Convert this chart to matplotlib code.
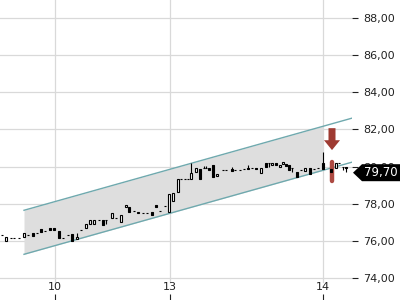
import matplotlib
matplotlib.use('Agg')
import matplotlib.pyplot as plt
from matplotlib.patches import Polygon
import numpy as np

# bar position (time slot), open, close, high, low
t = [2, 6, 11, 14, 19, 24, 28, 33, 37, 41, 45, 50, 54, 59, 63, 68, 72, 77, 81, 86,
     90, 94, 99, 103, 106, 112, 116, 121, 126, 129, 134, 138, 143, 147, 152, 156, 160, 165, 169, 173,
     178, 181, 185, 188, 191, 196, 200, 204, 206, 209, 213, 217, 223, 226, 232, 235, 240, 244, 248, 252,
     256, 261, 266, 269, 272, 276, 280, 283, 286, 289, 292, 297, 301, 305, 310, 314, 318, 323, 331, 336,
     339, 343, 346]
o = [76.31, 75.98, 76.18, 76.18, 76.15, 76.20, 76.31, 76.42, 76.42, 76.63, 76.52, 76.70, 76.70, 76.52, 76.18, 76.31, 76.35, 76.09, 76.58, 76.72,
     76.90, 76.90, 77.12, 77.15, 77.12, 77.24, 77.24, 77.02, 77.80, 77.80, 77.60, 77.48, 77.51, 77.51, 77.56, 77.96, 77.62, 77.87, 77.56, 78.16,
     78.61, 79.33, 79.33, 79.36, 79.33, 79.72, 79.87, 79.94, 79.94, 79.94, 80.08, 79.49, 79.81, 79.81, 79.85, 79.81, 79.81, 79.85, 79.94, 79.90,
     79.94, 79.67, 80.20, 80.17, 80.08, 80.17, 79.99, 80.15, 80.13, 80.08, 79.90, 79.72, 79.81, 79.77, 79.94, 79.85, 79.90, 80.17, 79.85, 79.90,
     80.20, 79.99, 79.99]
c = [76.31, 76.20, 76.18, 76.18, 76.15, 76.42, 76.31, 76.25, 76.42, 76.47, 76.52, 76.58, 76.58, 76.16, 76.18, 76.31, 75.98, 76.22, 76.58, 76.92,
     77.15, 77.15, 77.12, 76.88, 77.12, 77.48, 77.24, 77.39, 77.92, 77.56, 77.60, 77.56, 77.51, 77.51, 77.39, 77.80, 77.62, 77.87, 78.52, 78.59,
     79.33, 79.33, 79.33, 79.36, 79.63, 79.94, 79.36, 79.94, 79.94, 79.81, 79.45, 79.58, 79.81, 79.81, 79.76, 79.81, 79.81, 79.85, 79.85, 79.90,
     79.85, 79.94, 79.99, 80.17, 80.17, 80.08, 80.08, 80.26, 80.03, 79.81, 79.90, 79.45, 79.81, 79.90, 79.60, 79.85, 79.90, 79.85, 79.70, 80.20,
     80.20, 79.99, 79.90]
# wicks that stick out of the body
hi_extra = {17: 76.42, 44: 80.17, 47: 80.04, 48: 80.04, 54: 79.97, 58: 80.08, 77: 80.80}
lo_extra = {24: 76.90, 63: 79.99, 70: 79.70, 81: 79.81, 82: 79.70}

# trend channel (start/end slot, upper and lower price)
chan_t = [24, 352]
chan_upper = [77.65, 82.61]
chan_lower = [75.28, 80.24]
chan_fill_end = 323

# sell signal
signal_t = 332
signal_range = [79.22, 80.26]
arrow_top, arrow_tip = 82.07, 80.89
last_price = 79.70

day_ticks = [55, 170, 323]
day_labels = ['10', '13', '14']
price_ticks = [74, 76, 78, 80, 82, 84, 86, 88]

fig = plt.figure(figsize=(4, 3), dpi=100)
ax = fig.add_axes([0, 0, 352 / 400, 1])
ax.set_xlim(0, 352)
ax.set_ylim(72.82, 88.97)

if True:  # grid
  for y in price_ticks:
    ax.axhline(y, color='#d9d9d9', lw=0.9, zorder=0)
  for x in day_ticks:
    ax.axvline(x, ymin=0.06, color='#d9d9d9', lw=0.9, zorder=0)

if True:  # channel
  xs = np.array([chan_t[0], chan_fill_end])
  ax.fill_between(xs, np.interp(xs, chan_t, chan_lower), np.interp(xs, chan_t, chan_upper),
                  color='#dedede', lw=0, zorder=1)
  ax.plot(chan_t, chan_upper, color='#6fa9ae', lw=1, zorder=2)
  ax.plot(chan_t, chan_lower, color='#6fa9ae', lw=1, zorder=2)

if True:  # signal highlight + arrow
  ax.vlines(signal_t, signal_range[0], signal_range[1], color='#ad4a42', lw=3.2,
            capstyle='round', zorder=3)
  sw, hw = 3.5, 8
  mid = arrow_tip + (arrow_top - arrow_tip) * 0.45
  ax.add_patch(Polygon([(signal_t - sw, arrow_top), (signal_t + sw, arrow_top), (signal_t + sw, mid),
                        (signal_t + hw, mid), (signal_t, arrow_tip), (signal_t - hw, mid),
                        (signal_t - sw, mid)], closed=True, color='#9e3a31', lw=0, zorder=3))

if True:  # candles
  o = np.array(o); c = np.array(c)
  h = np.maximum(o, c); l = np.minimum(o, c)
  for i, v in hi_extra.items(): h[i] = v
  for i, v in lo_extra.items(): l[i] = v
  ax.vlines(t, l, h, color='black', lw=0.8, zorder=4)
  face = ['white' if cc > oo else 'black' for oo, cc in zip(o, c)]
  ax.bar(t, c - o, bottom=o, width=2.6, color=face, edgecolor='black', lw=0.8, zorder=5)

if True:  # axes
  for s in ax.spines.values():
    s.set_visible(False)
  ax.yaxis.tick_right()
  ax.set_yticks(price_ticks)
  ax.set_yticklabels([('%.2f' % v).replace('.', ',') for v in price_ticks])
  ax.tick_params(axis='y', direction='out', length=4, width=0.8, pad=4, labelsize=8,
                 colors='#222222')
  ax.set_xticks(day_ticks)
  ax.set_xticklabels(day_labels)
  ax.tick_params(axis='x', direction='in', length=4, width=0.8, pad=-13, labelsize=8,
                 colors='#222222')

if True:  # last price tag
  fig.canvas.draw()
  px, py = ax.transData.transform((352, last_price))
  py = py - 0.5
  tag = Polygon([(px + 1, py), (px + 10, py + 8.5), (400, py + 8.5), (400, py - 8.5), (px + 10, py - 8.5)],
                closed=True, transform=None, color='black', lw=0)
  fig.add_artist(tag)
  fig.text((px + 10 + 400) / 2 / 400, py / 300, ('%.2f' % last_price).replace('.', ','),
           color='white', fontsize=8.5, ha='center', va='center')

fig.savefig('out.png', dpi=100)
